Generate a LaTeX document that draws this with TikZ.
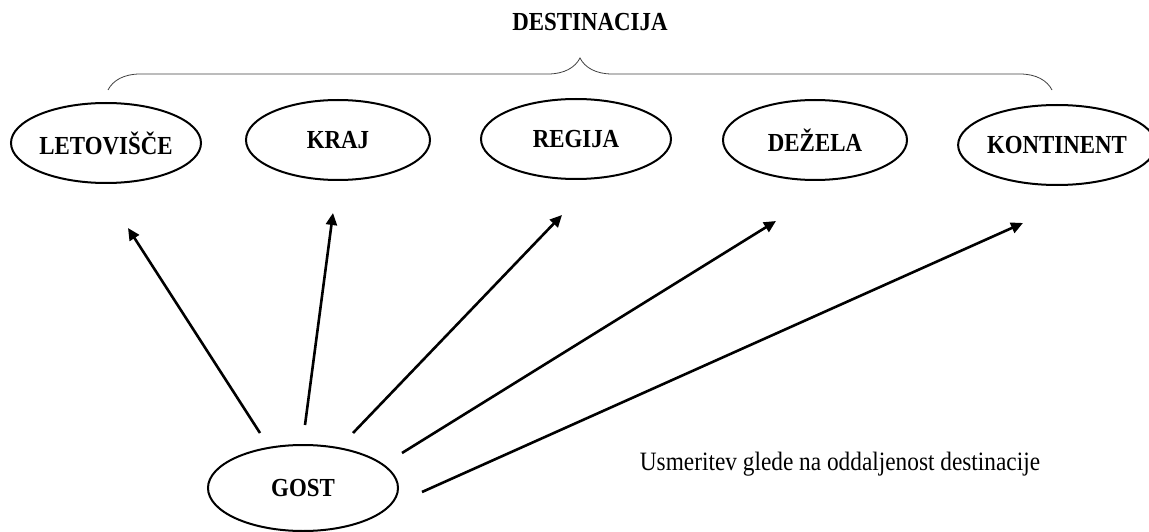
\documentclass[tikz,border=0pt]{standalone}
\usepackage{fontspec}
\setmainfont{Liberation Serif}[FakeStretch=0.88]
\usetikzlibrary{shapes.geometric,arrows.meta,decorations.pathreplacing}

\tikzset{
    place/.style={draw, ellipse, line width=2pt, minimum width=190pt, minimum height=80pt,
        inner sep=0pt, font=\fontsize{26}{30}\selectfont\bfseries},
    pointer/.style={line width=2.6pt, -{Triangle[length=12pt,width=11pt]}}
}

\begin{document}
\begin{tikzpicture}[x=1pt,y=-1pt]
    \useasboundingbox (0,0) rectangle (1149,532);
    \node[font=\fontsize{26}{30}\selectfont\bfseries] (dest) at (590,22) {DESTINACIJA};
    \draw[line width=0.8pt, black!75, decorate, decoration={brace, amplitude=32pt}] (108,90) -- (1052,90);
    % odredisca
    \node[place] (letov) at (106,143) {LETOVIŠČE};
    \node[place, minimum width=184pt] (kraj) at (338,140) {KRAJ};
    \node[place] (regija) at (576,139) {REGIJA};
    \node[place, minimum width=184pt] (dezela) at (815,140) {DEŽELA};
    \node[place, minimum width=180pt] (kont) at (1057,145) {KONTINENT};
    \node[place, minimum height=86pt] (gost) at (303,488) {GOST};
    % konci puscic
    \coordinate (s1) at (260,433); \coordinate (t1) at (128,228);
    \coordinate (s2) at (305,425); \coordinate (t2) at (333,213);
    \coordinate (s3) at (353,433); \coordinate (t3) at (562,215);
    \coordinate (s4) at (402,453); \coordinate (t4) at (776,221);
    \coordinate (s5) at (422,492); \coordinate (t5) at (1023,223);
    \draw[pointer] (s1) -- (t1);
    \draw[pointer] (s2) -- (t2);
    \draw[pointer] (s3) -- (t3);
    \draw[pointer] (s4) -- (t4);
    \draw[pointer] (s5) -- (t5);
    \node[font=\fontsize{26.5}{30}\selectfont] (opis) at (840,464) {Usmeritev glede na oddaljenost destinacije};
\end{tikzpicture}
\end{document}
